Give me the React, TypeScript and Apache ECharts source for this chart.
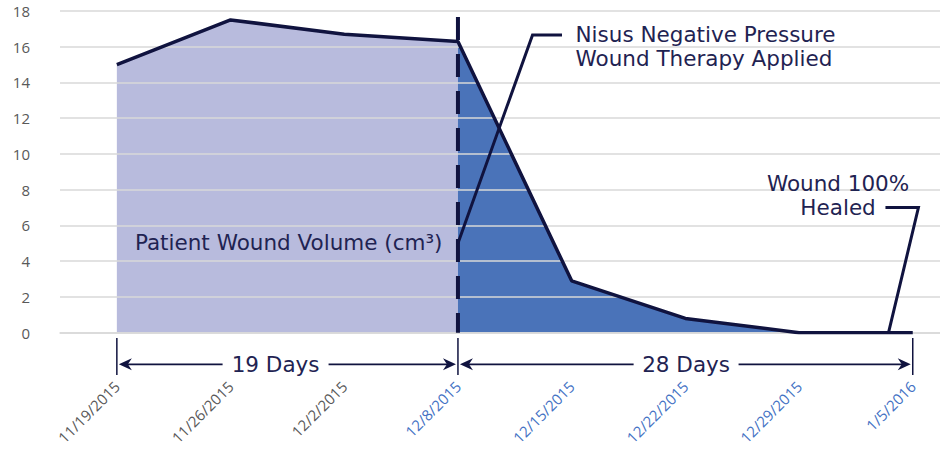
import React, { useEffect, useRef } from 'react';
import * as echarts from 'echarts';

const categories = ['11/19/2015', '11/26/2015', '12/2/2015', '12/8/2015', '12/15/2015', '12/22/2015', '12/29/2015', '1/5/2016'];
const woundVolume = [15, 17.5, 16.7, 16.3, 2.9, 0.8, 0, 0];
const therapyIndex = 3;
const yMin = 0;
const yMax = 18;
const yStep = 2;

const beforeTherapy = woundVolume.map((v, i) => (i <= therapyIndex ? v : '-'));
const afterTherapy = woundVolume.map((v, i) => (i >= therapyIndex ? v : '-'));

// annotation anchors in data space (x = category index, y = volume)
const nisusCallout = [[3, 5.0], [3.656, 16.66], [3.915, 16.66]];
const healedCallout = [[6.787, 0], [7.05, 7.0], [6.76, 7.0]];
const nisusText = { x: 4.034, lines: [['Nisus Negative Pressure', 16.66], ['Wound Therapy Applied', 15.32]] };
const patientText = { x: 2.864, y: 5.02, text: 'Patient Wound Volume (cm³)' };
const healedText = { x: 6.343, lines: [['Wound 100%', 8.35], ['Healed', 7.03]] };
const spans = [
  { from: 0, to: 3, label: '19 Days', gap: [0.93, 1.862] },
  { from: 3, to: 7, label: '28 Days', gap: [4.545, 5.468] },
];
const spanY = -1.77;
const tickTop = -0.3;
const tickBottom = -2.37;
const dashTop = 17.67;

const NAVY = '#10133F';
const TEXT = '#1F2352';
const FONT = "'Open Sans', sans-serif";
const ANN_FONT = "21.5px 'DejaVu Sans', sans-serif";

export default function App() {
  const ref = useRef<HTMLDivElement>(null);
  useEffect(() => {
    document.body.style.margin = '0';
    const chart = echarts.init(ref.current!, null, { renderer: 'svg' });
    chart.setOption({
      animation: false,
      backgroundColor: '#ffffff',
      grid: { left: 60, right: -29.6, top: 11, bottom: 117.3, containLabel: false, outerBoundsMode: 'none' },
      xAxis: [
        {
          type: 'category',
          data: categories,
          boundaryGap: true,
          axisLine: { show: true, lineStyle: { color: '#D9D9D9', width: 1.5 } },
          axisTick: { show: false },
          axisLabel: {
            rotate: 45,
            margin: 51,
            fontFamily: FONT,
            fontSize: 15,
            color: (_v: any, i: number) => (i < therapyIndex ? '#595959' : '#4472C4'),
          },
          splitLine: { show: false },
          z: 3,
        },
        { type: 'value', min: -0.5, max: 7.5, show: false },
      ],
      yAxis: {
        type: 'value',
        min: yMin,
        max: yMax,
        interval: yStep,
        axisLine: { show: false },
        axisTick: { show: false },
        axisLabel: { fontFamily: FONT, fontSize: 15, color: '#595959', margin: 30 },
        splitLine: { lineStyle: { color: '#D9D9D9', width: 1.5 } },
        z: 3,
      },
      series: [
        {
          type: 'line',
          data: beforeTherapy,
          symbol: 'none',
          lineStyle: { width: 0 },
          areaStyle: { color: '#B8BBDD', opacity: 1 },
          z: 1,
        },
        {
          type: 'line',
          data: afterTherapy,
          symbol: 'none',
          lineStyle: { width: 0 },
          areaStyle: { color: '#4A73B9', opacity: 1 },
          z: 1,
        },
        {
          type: 'line',
          data: woundVolume,
          symbol: 'none',
          lineStyle: { width: 3.5, color: NAVY },
          z: 5,
        },
      ],
    });

    const p = (x: number, y: number) => chart.convertToPixel({ xAxisIndex: 1, yAxisIndex: 0 } as any, [x, y]) as number[];
    const g: any[] = [];
    const Z = 100;
    const dt = p(therapyIndex, dashTop);
    const db = p(therapyIndex, 0);
    g.push({ type: 'line', z: Z, shape: { x1: dt[0], y1: dt[1], x2: db[0], y2: db[1] }, style: { stroke: NAVY, lineWidth: 4, lineDash: [23, 14] } });
    g.push({ type: 'polyline', z: Z, shape: { points: nisusCallout.map(([x, y]) => p(x, y)) }, style: { stroke: NAVY, lineWidth: 3, fill: null } });
    g.push({ type: 'polyline', z: Z, shape: { points: healedCallout.map(([x, y]) => p(x, y)) }, style: { stroke: NAVY, lineWidth: 3, fill: null } });
    nisusText.lines.forEach(([t, y]) => {
      const q = p(nisusText.x, y as number);
      g.push({ type: 'text', z: Z, x: q[0], y: q[1], style: { text: t, font: ANN_FONT, fill: TEXT, align: 'left', verticalAlign: 'middle' } });
    });
    {
      const q = p(patientText.x, patientText.y);
      g.push({ type: 'text', z: Z, x: q[0], y: q[1], style: { text: patientText.text, font: ANN_FONT, fill: TEXT, align: 'right', verticalAlign: 'middle' } });
    }
    healedText.lines.forEach(([t, y]) => {
      const q = p(healedText.x, y as number);
      g.push({ type: 'text', z: Z, x: q[0], y: q[1], style: { text: t, font: ANN_FONT, fill: TEXT, align: 'center', verticalAlign: 'middle' } });
    });
    [0, therapyIndex, categories.length - 1].forEach((i) => {
      const a = p(i, tickTop);
      const b = p(i, tickBottom);
      g.push({ type: 'line', z: Z, shape: { x1: a[0], y1: a[1], x2: b[0], y2: b[1] }, style: { stroke: NAVY, lineWidth: 1.5 } });
    });
    spans.forEach((s) => {
      const a = p(s.from, spanY);
      const b = p(s.to, spanY);
      const g0 = p(s.gap[0], spanY);
      const g1 = p(s.gap[1], spanY);
      const c = p((s.gap[0] + s.gap[1]) / 2, spanY);
      const y = a[1];
      const la = a[0] + 2;
      const rb = b[0] - 2;
      g.push({ type: 'line', z: Z, shape: { x1: la + 8, y1: y, x2: g0[0], y2: y }, style: { stroke: NAVY, lineWidth: 1.8 } });
      g.push({ type: 'line', z: Z, shape: { x1: g1[0], y1: y, x2: rb - 8, y2: y }, style: { stroke: NAVY, lineWidth: 1.8 } });
      g.push({ type: 'polygon', z: Z, shape: { points: [[la, y], [la + 13, y - 6], [la + 9, y], [la + 13, y + 6]] }, style: { fill: NAVY } });
      g.push({ type: 'polygon', z: Z, shape: { points: [[rb, y], [rb - 13, y - 6], [rb - 9, y], [rb - 13, y + 6]] }, style: { fill: NAVY } });
      g.push({ type: 'text', z: Z, x: c[0], y: y, style: { text: s.label, font: ANN_FONT, fill: TEXT, align: 'center', verticalAlign: 'middle' } });
    });
    chart.setOption({ graphic: g });

    return () => chart.dispose();
  }, []);
  return <div ref={ref} style={{ width: 940, height: 450 }} />;
}
